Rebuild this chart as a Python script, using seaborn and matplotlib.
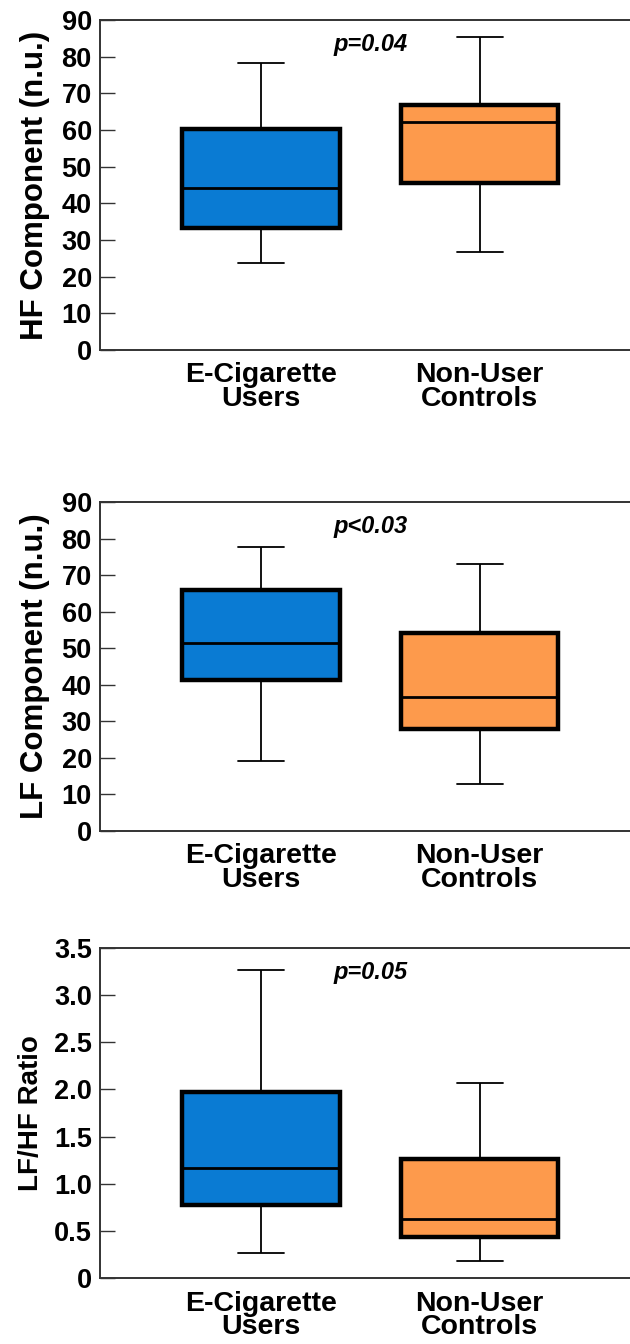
import numpy as np
import pandas as pd
import seaborn as sns
import matplotlib.pyplot as plt

# groups on the x axis
groups = ["E-Cigarette\nUsers", "Non-User\nControls"]

# five-number summaries: min, q1, median, q3, max
hf_ecig = [23.7, 33.4, 44.2, 60.3, 78.2]
hf_ctrl = [26.8, 45.5, 62.1, 66.8, 85.4]
lf_ecig = [19.2, 41.2, 51.3, 65.8, 77.8]
lf_ctrl = [12.9, 28.0, 36.6, 54.1, 72.9]
ratio_ecig = [0.26, 0.77, 1.17, 1.97, 3.27]
ratio_ctrl = [0.18, 0.44, 0.63, 1.26, 2.07]

ylabels = ["HF Component (n.u.)", "LF Component (n.u.)", "LF/HF Ratio"]
ylabel_sizes = [22.5, 22.5, 20]
ylabel_pads = [8, 8, 7]
pvals = ["p=0.04", "p<0.03", "p=0.05"]
ytick_vals = [list(range(0, 91, 10)), list(range(0, 91, 10)),
              [0, 0.5, 1.0, 1.5, 2.0, 2.5, 3.0, 3.5]]
ytick_labels = [[str(v) for v in range(0, 91, 10)],
                [str(v) for v in range(0, 91, 10)],
                ["0", "0.5", "1.0", "1.5", "2.0", "2.5", "3.0", "3.5"]]
ymax = [90, 90, 3.5]

colors = ["#0a7bd3", "#fd9a4c"]

panels = [(hf_ecig, hf_ctrl), (lf_ecig, lf_ctrl), (ratio_ecig, ratio_ctrl)]

sns.set_style("white")
plt.rcParams["font.family"] = ["Liberation Sans", "DejaVu Sans"]
plt.rcParams["font.weight"] = "bold"
plt.rcParams["text.color"] = "black"
plt.rcParams["axes.labelcolor"] = "black"
plt.rcParams["xtick.color"] = "black"
plt.rcParams["ytick.color"] = "black"

fig = plt.figure(figsize=(6.3, 13.44), dpi=100)

# axes rectangles in figure fractions (left, bottom, width, height)
rects = [
    (0.159, 0.7396, 0.87, 0.2455),
    (0.159, 0.3817, 0.87, 0.2448),
    (0.159, 0.0491, 0.87, 0.2455),
]

for i, (a, b) in enumerate(panels):
    ax = fig.add_axes(rects[i])
    df = pd.DataFrame({
        "group": [groups[0]] * len(a) + [groups[1]] * len(b),
        "value": a + b,
    })
    sns.boxplot(
        data=df, x="group", y="value", hue="group", order=groups,
        palette=colors, saturation=1, legend=False, whis=(0, 100),
        width=0.72, ax=ax, capwidths=0.21,
        boxprops={"edgecolor": "black", "linewidth": 3.2},
        medianprops={"color": "black", "linewidth": 2.0},
        whiskerprops={"color": "black", "linewidth": 1.3},
        capprops={"color": "black", "linewidth": 1.3},
    )
    ax.set_xlim(-0.733, 1.77)
    ax.set_ylim(0, ymax[i])
    ax.set_yticks(ytick_vals[i])
    ax.set_yticklabels(ytick_labels[i], fontsize=19.5, fontweight="bold")
    ax.set_xticks([0, 1])
    ax.set_xticklabels(groups, fontsize=20.5, fontweight="bold", linespacing=0.87)
    ax.tick_params(axis="y", direction="in", length=11, width=1.0,
                   color="#333333", pad=6, left=True)
    ax.tick_params(axis="x", length=0, pad=9)
    ax.set_xlabel("")
    ax.set_ylabel(ylabels[i], fontsize=ylabel_sizes[i], fontweight="bold",
                  labelpad=ylabel_pads[i])
    for s in ["left", "bottom", "top"]:
        ax.spines[s].set_visible(True)
        ax.spines[s].set_color("#333333")
        ax.spines[s].set_linewidth(1.4)
    ax.spines["right"].set_visible(False)
    ax.text(0.5, ymax[i] * 0.925, pvals[i], ha="center", va="center",
            fontsize=17, fontweight="bold", fontstyle="italic")

fig.savefig("out.png", dpi=100)
